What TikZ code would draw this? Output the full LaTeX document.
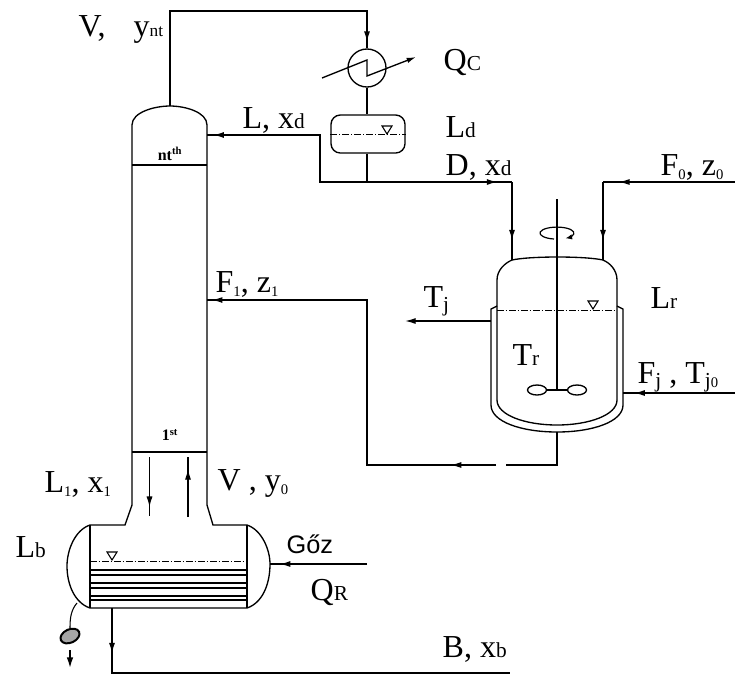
\documentclass[tikz,border=0pt]{standalone}
\usepackage{fontspec}
\setmainfont{Liberation Serif}
\setsansfont{Liberation Sans}
\usetikzlibrary{arrows.meta}
\usetikzlibrary{calc}
\usetikzlibrary{shapes.geometric}
\usetikzlibrary{decorations.markings}
\newcommand{\low}[1]{{\fontsize{16}{16}\selectfont #1}}
\newcommand{\jj}{\raisebox{-3pt}{\fontsize{16}{16}\selectfont j}}
\newcommand{\dig}[1]{\raisebox{-3pt}{\fontsize{11}{11}\selectfont #1}}
\begin{document}
\begin{tikzpicture}[x=0.75pt,y=-0.75pt,line width=1pt,
    flow/.style={postaction={decorate},decoration={markings,mark=at position #1 with {\arrow{Latex[length=8pt,width=4.5pt]}}}},
    wall/.style={line width=1pt},
    lab/.style={inner sep=0pt,anchor=base west,font=\fontsize{24}{26}\selectfont},
    tray/.style={inner sep=0pt,font=\fontsize{12}{12}\selectfont\bfseries},
    lvl/.style={line width=0.6pt,dash pattern=on 5pt off 1.5pt on 1pt off 1.5pt}]
    \useasboundingbox (0,0) rectangle (735,676);

    % condenser, drum
    \node[circle,draw,minimum size=28.5pt,inner sep=0pt] (cond) at (367,68) {};
    \node[rectangle,draw,rounded corners=7pt,minimum width=55.5pt,minimum height=28.5pt,inner sep=0pt] (drum) at (368,134) {};

    % column
    \coordinate (coltop) at (170,106);
    \coordinate (lin) at (207,135);
    \coordinate (fin) at (207,300);
    \draw[wall] (132,505) -- (132,125) .. controls (132,112) and (155,106) .. (coltop)
        .. controls (185,106) and (207,112) .. (207,125) -- (207,505);
    \draw[wall] (132,165) -- (207,165);
    \draw[wall] (132,452) -- (207,452);
    \node[tray] (nth) at (170,154) {nt\textsuperscript{th}};
    \node[tray] (first) at (170,435) {1\textsuperscript{st}};
    \coordinate (down1) at (149.5,457);
    \coordinate (down2) at (149.5,516);
    \coordinate (up1) at (188,517);
    \coordinate (up2) at (188,457);
    \draw[line width=0.8pt,flow=0.85] (down1) -- (down2);
    \draw[line width=0.8pt,flow=0.8] (up1) -- (up2);

    % reboiler
    \coordinate (botout) at (112,608);
    \coordinate (steamin) at (270,564);
    \draw[wall] (132,505) -- (125,525) -- (90,525) .. controls (75,530) and (67,550) .. (67,566)
        .. controls (67,585) and (75,603) .. (90,608) -- (247,608)
        .. controls (262,603) and (270,585) .. (steamin)
        .. controls (270,550) and (262,530) .. (247,525) -- (213,525) -- (207,505);
    \draw[wall] (90,525) -- (90,608);
    \draw[wall] (247,525) -- (247,608);
    \draw[lvl] (90,561) -- (247,561);
    \foreach \ytube in {570,575,583,588,596,600}
        \draw[line width=1.5pt] (90,\ytube) -- (247,\ytube);
    \foreach \xlev/\ylev in {112/561,387/135,593/310}
        \draw[line width=0.8pt] (\xlev-5,\ylev-9) -- (\xlev+5,\ylev-9) -- (\xlev,\ylev-1) -- cycle;
    \draw[lvl] (drum.west) -- (drum.east);

    % trap under the reboiler
    \node[ellipse,draw,line width=1.5pt,fill=black!35,rotate=25,minimum width=15pt,minimum height=10pt,inner sep=0pt] (trap) at (70,636) {};
    \coordinate (trapout) at (70,668);
    \coordinate (traptop) at (77,603);
    \draw[line width=0.8pt] (traptop) .. controls (71,610) and (70,618) .. (trap);
    \draw[line width=1.2pt,-{Latex[length=8pt,width=5pt]}] (70,650) -- (trapout);

    % reactor
    \coordinate (dtop) at (512,260);
    \coordinate (ftop) at (603,260);
    \coordinate (jout) at (491,321);
    \coordinate (jin) at (623,393);
    \coordinate (rbot) at (557,432);
    \draw[wall] (497,400) -- (497,280) .. controls (497,270) and (505,263) .. (dtop)
        .. controls (530,256) and (585,256) .. (ftop)
        .. controls (610,263) and (617,270) .. (617,280) -- (617,400);
    \draw[wall] (497,400) .. controls (497,415) and (525,425) .. (557,425)
        .. controls (589,425) and (617,415) .. (617,400);
    \draw[wall] (497,306) -- (491,309) -- (jout) -- (491,405) .. controls (491,422) and (522,432) .. (rbot)
        .. controls (592,432) and (623,422) .. (623,405) -- (jin) -- (623,309) -- (617,306);
    \draw[lvl] (497,310) -- (617,310);
    \draw[line width=0.9pt] (557,199) -- (557,390);
    \draw (537,390) ellipse (9.5 and 5);
    \draw (577,390) ellipse (9.5 and 5);
    \draw (546.5,390) -- (567.5,390);
    \draw[line width=0.9pt,-{Latex[length=5pt,width=4pt]}] (554,239) arc[start angle=100,end angle=420,x radius=17,y radius=6];

    % streams
    \coordinate (condin) at (367,11);
    \coordinate (ctop) at (170,11);
    \draw (coltop) -- (ctop) -- (condin) -- (cond.north);
    \draw[flow=1] (condin) -- ($(condin)+(0,31)$);
    \draw (cond.south) -- (drum.north -| cond.south);
    \coordinate (dsplit) at (367,182);
    \coordinate (lturn) at (320,135);
    \coordinate (lcorner) at (320,182);
    \coordinate (dcorner) at (512,182);
    \draw (drum.south -| dsplit) -- (dsplit);
    \draw[line width=1.2pt,flow=0.97] (dsplit) -- (lcorner) -- (lturn) -- (lin);
    \draw[flow=0.75] (dcorner) -- (dtop);
    \draw[flow=0.9] (dsplit) -- (dcorner);
    \coordinate (f0start) at (735,182);
    \coordinate (f0corner) at (603,182);
    \draw[flow=0.88] (f0start) -- (f0corner);
    \draw[flow=0.75] (f0corner) -- (ftop);
    \coordinate (ret1) at (557,465);
    \coordinate (gapr) at (506,465);
    \coordinate (gapl) at (496,465);
    \coordinate (ret2) at (367,465);
    \coordinate (ret3) at (367,300);
    \draw (rbot) -- (ret1) -- (gapr);
    \draw[flow=0.1] (gapl) -- (ret2) -- (ret3) -- (fin);
    \draw[flow=0.97] (ret3) -- (fin);
    \coordinate (tjend) at (405,321);
    \draw[-{Latex[length=8pt,width=4.5pt]}] (jout) -- (tjend);
    \coordinate (fjstart) at (735,393);
    \draw[flow=0.9] (fjstart) -- (jin);
    \coordinate (qcin) at (322,78);
    \coordinate (qcout) at (416,57);
    \draw[-{Latex[length=7pt,width=4pt]}] (qcin) -- (367,60) -- (367,76) -- (qcout);
    \coordinate (steamstart) at (367,564);
    \draw[flow=0.9] (steamstart) -- (steamin);
    \coordinate (bcorner) at (112,673);
    \coordinate (bend) at (510,673);
    \draw (botout) -- (bcorner) -- (bend);
    \draw[flow=0.7] (botout) -- (bcorner);

    % labels
    \node[lab] (v) at (78,36) {V,};
    \node[lab] (ynt) at (133,36) {y{\fontsize{13}{13}\selectfont nt}};
    \node[lab] (qc) at (443,70) {Q\low{C}};
    \node[lab] (ld) at (445,137) {L\low{d}};
    \node[lab] (dxd) at (445,175) {D, x\low{d}};
    \node[lab] (fz0) at (660,175) {F\dig{0}, z\dig{0}};
    \node[lab] (lxd) at (242,128) {L, x\low{d}};
    \node[lab] (fz1) at (215,292) {F\dig{1}, z\dig{1}};
    \node[lab] (tj) at (423,307) {T\jj};
    \node[lab] (lr) at (650,308) {L\low{r}};
    \node[lab] (tr) at (512,365) {T\low{r}};
    \node[lab] (fj) at (637,383) {F\jj{} , T\jj\dig{0}};
    \node[lab] (lx1) at (44,492) {L\dig{1}, x\dig{1}};
    \node[lab] (vy0) at (217,490) {V , y\dig{0}};
    \node[lab] (lb) at (15,557) {L\low{b}};
    \node[lab] (qr) at (310,600) {Q\low{R}};
    \node[lab] (bxb) at (442,657) {B, x\low{b}};
    \node[inner sep=0pt,anchor=base west,font=\fontsize{19}{19}\selectfont\sffamily] (goz) at (286,553) {Gőz};
\end{tikzpicture}
\end{document}
